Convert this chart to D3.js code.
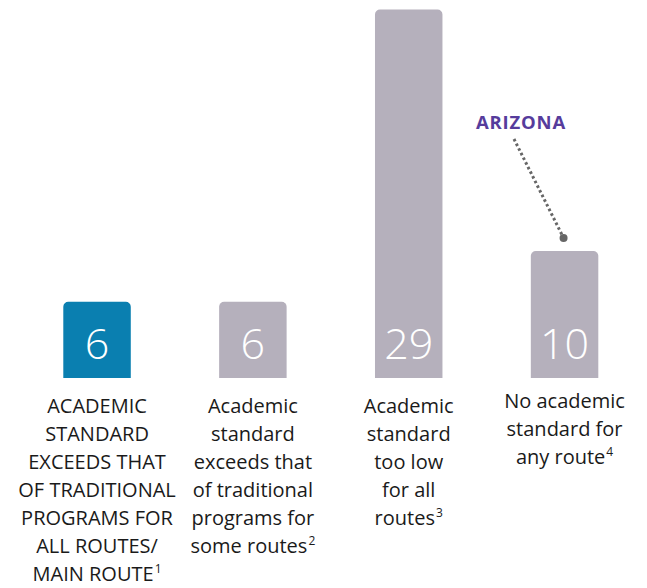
<!DOCTYPE html>
<html>
<head>
<meta charset="utf-8">
<script src="https://cdn.jsdelivr.net/npm/d3@7"></script>
<style>
  html, body { margin: 0; padding: 0; background: #ffffff; }
  svg { display: block; }
</style>
</head>
<body>
<svg id="chart" width="647" height="588"></svg>
<script>
// Number of states by academic standard for alternative routes
const categories = ["exceeds-all", "exceeds-some", "too-low", "none"];
const counts = [6, 6, 29, 10];
const labelLines = [
  ["ACADEMIC", "STANDARD", "EXCEEDS THAT", "OF TRADITIONAL", "PROGRAMS FOR", "ALL ROUTES/", "MAIN ROUTE"],
  ["Academic", "standard", "exceeds that", "of traditional", "programs for", "some routes"],
  ["Academic", "standard", "too low", "for all", "routes"],
  ["No academic", "standard for", "any route"]
];
const footnotes = ["1", "2", "3", "4"];
const highlight = ["exceeds-all"];
const calloutText = "ARIZONA";
const calloutCategory = "none";

const svg = d3.select("#chart");
const baseline = 378;

const x = d3.scaleBand()
  .domain(categories)
  .range([63.3, 598.3])
  .paddingInner(0.567)
  .paddingOuter(0);

const y = d3.scaleLinear()
  .domain([0, d3.max(counts)])
  .range([baseline, 9.5]);

const color = c => highlight.includes(c) ? "#0a7fb0" : "#b5b0bc";

// Bars with rounded top corners
function topRoundedRect(x0, y0, w, h, r) {
  const p = d3.path();
  p.moveTo(x0, y0 + h);
  p.lineTo(x0, y0 + r);
  p.arcTo(x0, y0, x0 + r, y0, r);
  p.lineTo(x0 + w - r, y0);
  p.arcTo(x0 + w, y0, x0 + w, y0 + r, r);
  p.lineTo(x0 + w, y0 + h);
  p.closePath();
  return p.toString();
}

const data = categories.map((c, i) => ({ c, v: counts[i], lines: labelLines[i], note: footnotes[i] }));

svg.append("g").selectAll("path")
  .data(data)
  .join("path")
  .attr("d", d => topRoundedRect(x(d.c), y(d.v), x.bandwidth(), y(0) - y(d.v), 5))
  .attr("fill", d => color(d.c));

// Value numbers inside the bars
svg.append("g").selectAll("text")
  .data(data)
  .join("text")
  .attr("x", d => x(d.c) + x.bandwidth() / 2)
  .attr("y", baseline - 19)
  .attr("text-anchor", "middle")
  .attr("font-family", "'Open Sans', sans-serif")
  .attr("font-weight", 300)
  .attr("font-size", 43)
  .attr("fill", "#ffffff")
  .text(d => d.v);

// Category descriptions below the bars
const lineStep = 28;
const labels = svg.append("g").selectAll("text")
  .data(data)
  .join("text")
  .attr("text-anchor", "middle")
  .attr("font-family", "'Open Sans', sans-serif")
  .attr("font-size", 20)
  .attr("fill", "#1a1a1a")
  .attr("transform", d => `translate(${x(d.c) + x.bandwidth() / 2},${d.c === "none" ? 408 : 413})`);

labels.each(function(d) {
  const t = d3.select(this);
  d.lines.forEach((line, i) => {
    t.append("tspan")
      .attr("x", 0)
      .attr("y", i * lineStep)
      .text(line);
    if (i === d.lines.length - 1) {
      t.append("tspan")
        .attr("font-size", 12)
        .attr("dy", -8)
        .attr("dx", 1)
        .text(d.note);
    }
  });
});

// Callout for Arizona
const target = data.find(d => d.c === calloutCategory);
const dotX = x(target.c) + x.bandwidth() / 2 - 1;
const dotY = y(target.v) - 13;

svg.append("text")
  .attr("x", 521)
  .attr("y", 129)
  .attr("text-anchor", "middle")
  .attr("font-family", "'Open Sans', sans-serif")
  .attr("font-weight", 700)
  .attr("font-size", 18.5)
  .attr("letter-spacing", 0.8)
  .attr("fill", "#563c9c")
  .text(calloutText);

svg.append("line")
  .attr("x1", 514)
  .attr("y1", 139)
  .attr("x2", dotX)
  .attr("y2", dotY)
  .attr("stroke", "#666666")
  .attr("stroke-width", 3)
  .attr("stroke-dasharray", "2.6 2.6");

svg.append("circle")
  .attr("cx", dotX)
  .attr("cy", dotY)
  .attr("r", 4)
  .attr("fill", "#666666");
</script>
</body>
</html>
